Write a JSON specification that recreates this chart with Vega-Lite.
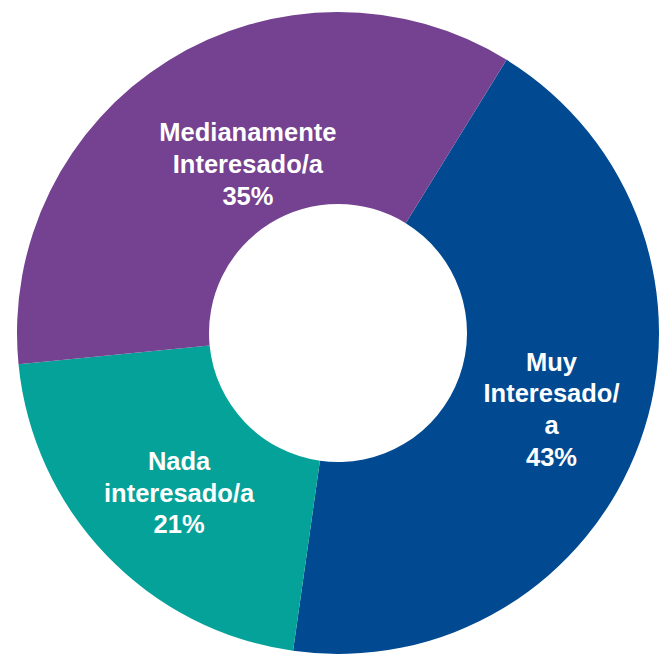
{
  "$schema": "https://vega.github.io/schema/vega-lite/v6.json",
  "width": 642,
  "height": 642,
  "autosize": {"type": "none"},
  "padding": {"left": 17, "top": 12, "right": 0, "bottom": 0},
  "background": "white",
  "view": {"stroke": null},
  "data": {
    "values": [
      {"idx": 1, "cat": "Muy Interesado/a", "pct": 43, "label": "Muy\nInteresado/\na\n43%"},
      {"idx": 2, "cat": "Nada interesado/a", "pct": 21, "label": "Nada\ninteresado/a\n21%"},
      {"idx": 3, "cat": "Medianamente Interesado/a", "pct": 35, "label": "Medianamente\nInteresado/a\n35%"}
    ]
  },
  "encoding": {
    "theta": {"field": "pct", "type": "quantitative", "stack": true, "scale": {"range": [0.553, 6.836]}},
    "order": {"field": "idx", "type": "ordinal"}
  },
  "layer": [
    {
      "mark": {"type": "arc", "innerRadius": 129, "outerRadius": 321, "stroke": null},
      "encoding": {
        "color": {
          "field": "cat",
          "type": "nominal",
          "scale": {
            "domain": ["Muy Interesado/a", "Nada interesado/a", "Medianamente Interesado/a"],
            "range": ["#014A91", "#05A299", "#744290"]
          },
          "legend": null
        }
      }
    },
    {
      "mark": {"type": "text", "radius": 227, "dy": -47.5, "font": "Liberation Sans", "fontWeight": "bold", "fontSize": 25.5, "lineHeight": 31.7, "lineBreak": "\n", "align": "center", "baseline": "middle"},
      "encoding": {
        "text": {"condition": {"test": "datum.idx == 1", "field": "label"}, "value": ""},
        "color": {"value": "white"}
      }
    },
    {
      "mark": {"type": "text", "radius": 227, "dx": 5, "dy": -28, "font": "Liberation Sans", "fontWeight": "bold", "fontSize": 25.5, "lineHeight": 31.7, "lineBreak": "\n", "align": "center", "baseline": "middle"},
      "encoding": {
        "text": {"condition": {"test": "datum.idx == 2", "field": "label"}, "value": ""},
        "color": {"value": "white"}
      }
    },
    {
      "mark": {"type": "text", "radius": 191, "dx": 11, "dy": -37.5, "font": "Liberation Sans", "fontWeight": "bold", "fontSize": 25.5, "lineHeight": 31.7, "lineBreak": "\n", "align": "center", "baseline": "middle"},
      "encoding": {
        "text": {"condition": {"test": "datum.idx == 3", "field": "label"}, "value": ""},
        "color": {"value": "white"}
      }
    }
  ]
}
